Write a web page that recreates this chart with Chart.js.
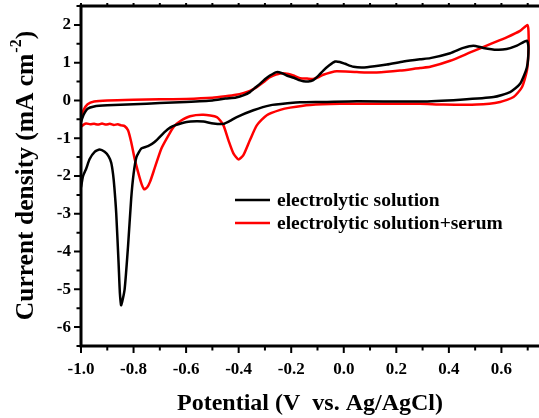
<!DOCTYPE html>
<html>
<head>
<meta charset="utf-8">
<script src="https://cdn.jsdelivr.net/npm/chart.js@4/dist/chart.umd.min.js"></script>
<style>
    html, body { margin: 0; padding: 0; background: #fff; }
    #wrap { width: 539px; height: 418px; }
</style>
</head>
<body>
<div id="wrap"><canvas id="cv"></canvas></div>
<script>
// cyclic voltammograms, potential in V vs. Ag/AgCl, current density in mA cm-2
const electrolytePotential = [
    -1.0, -0.99, -0.975, -0.95, -0.9, -0.8, -0.7, -0.6, -0.5, -0.45, -0.41, -0.38, -0.357, -0.34, -0.319,
    -0.3, -0.281, -0.255, -0.235, -0.217, -0.19, -0.166, -0.154, -0.135, -0.116, -0.097, -0.078, -0.055,
    -0.033, -0.015, 0.005, 0.037, 0.088, 0.164, 0.227, 0.29, 0.329, 0.405, 0.455, 0.493, 0.531, 0.582,
    0.62, 0.659, 0.697,
    0.703, 0.697, 0.671, 0.633, 0.57, 0.443, 0.29, 0.05, -0.078, -0.166, -0.204, -0.281, -0.344, -0.407,
    -0.435, -0.458, -0.496, -0.534, -0.56, -0.598, -0.643, -0.661, -0.681, -0.72, -0.745, -0.77, -0.789,
    -0.8, -0.809, -0.821, -0.834, -0.847, -0.852, -0.857, -0.866, -0.873, -0.878, -0.885, -0.895, -0.91,
    -0.929, -0.948, -0.967, -0.98, -0.992, -1.0
];
const electrolyteCurrent = [
    -0.57, -0.38, -0.22, -0.16, -0.13, -0.1, -0.07, -0.04, 0.0, 0.05, 0.08, 0.14, 0.22, 0.32, 0.44,
    0.56, 0.66, 0.75, 0.72, 0.66, 0.6, 0.53, 0.51, 0.5, 0.54, 0.65, 0.79, 0.93,
    1.03, 1.02, 0.97, 0.89, 0.88, 0.95, 1.03, 1.09, 1.12, 1.25, 1.39, 1.45, 1.39, 1.34,
    1.36, 1.45, 1.58,
    1.39, 0.88, 0.44, 0.22, 0.09, 0.02, -0.03, -0.02, -0.04, -0.05, -0.07, -0.13, -0.26, -0.44,
    -0.55, -0.62, -0.61, -0.56, -0.55, -0.57, -0.66, -0.72, -0.83, -1.1, -1.21, -1.27, -1.5,
    -1.95, -2.6, -3.86, -5.0, -5.42, -5.1, -4.3, -2.98, -2.3, -1.95, -1.65, -1.48, -1.36,
    -1.3, -1.36, -1.55, -1.8, -2.0, -2.3
];
const serumPotential = [
    -1.0, -0.99, -0.975, -0.95, -0.9, -0.8, -0.7, -0.6, -0.5, -0.45, -0.41, -0.38, -0.357, -0.33, -0.306,
    -0.285, -0.268, -0.236, -0.21, -0.192, -0.166, -0.14, -0.116, -0.095, -0.078, -0.05, -0.027, 0.05,
    0.125, 0.214, 0.29, 0.329, 0.405, 0.481, 0.557, 0.62, 0.671, 0.699,
    0.703, 0.703, 0.697, 0.678, 0.646, 0.595, 0.506, 0.379, 0.29, 0.1, -0.014, -0.128, -0.204, -0.242,
    -0.293, -0.331, -0.357, -0.382, -0.401, -0.42, -0.439, -0.458, -0.483, -0.534, -0.585, -0.623,
    -0.645, -0.661, -0.694, -0.72, -0.737, -0.748, -0.76, -0.77, -0.783, -0.796, -0.809, -0.821,
    -0.834, -0.847, -0.86, -0.875, -0.89, -0.905, -0.92, -0.935, -0.95, -0.965, -0.98, -0.99, -1.0
];
const serumCurrent = [
    -0.44, -0.25, -0.1, -0.03, 0.0, 0.02, 0.03, 0.04, 0.07, 0.11, 0.15, 0.2, 0.25, 0.36, 0.48,
    0.6, 0.66, 0.72, 0.7, 0.66, 0.59, 0.58, 0.57, 0.62, 0.68, 0.74, 0.77, 0.75,
    0.74, 0.79, 0.86, 0.89, 1.05, 1.27, 1.49, 1.67, 1.84, 2.0,
    1.84, 1.32, 0.79, 0.35, 0.09, -0.04, -0.11, -0.11, -0.09, -0.09, -0.09, -0.12, -0.19, -0.25,
    -0.39, -0.66, -1.05, -1.45, -1.56, -1.4, -1.05, -0.66, -0.44, -0.38, -0.42, -0.55,
    -0.68, -0.85, -1.27, -1.8, -2.15, -2.3, -2.35, -2.2, -1.89, -1.54, -1.1, -0.79,
    -0.68, -0.66, -0.63, -0.65, -0.62, -0.64, -0.61, -0.64, -0.62, -0.63, -0.61, -0.64, -0.7
];
const xTicks = [-1.0, -0.8, -0.6, -0.4, -0.2, 0.0, 0.2, 0.4, 0.6];
const yTicks = [-6, -5, -4, -3, -2, -1, 0, 1, 2];

const serif = '"Liberation Serif", "Times New Roman", serif';

function toPoints(xs, ys) {
    return xs.map((x, i) => ({ x: x, y: ys[i] }));
}

// axes frame, minor ticks, y title with superscript and legend
const framePlugin = {
    id: 'frame',
    afterDatasetsDraw(chart) {
        const ctx = chart.ctx;
        const area = chart.chartArea;
        const xs = chart.scales.x;
        const ys = chart.scales.y;
        ctx.save();
        ctx.strokeStyle = '#000';
        ctx.lineWidth = 3;
        ctx.beginPath();
        ctx.moveTo(area.left, area.top);
        ctx.lineTo(area.right + 2, area.top);
        ctx.moveTo(area.left, area.top - 1.5);
        ctx.lineTo(area.left, area.bottom + 1.5);
        ctx.moveTo(area.left - 1.5, area.bottom);
        ctx.lineTo(area.right + 2, area.bottom);
        ctx.stroke();

        ctx.lineWidth = 2;
        ctx.beginPath();
        for (let v = -1.0; v <= 0.75; v += 0.1) {
            const px = xs.getPixelForValue(v);
            const major = Math.round(v * 10) % 2 === 0;
            ctx.moveTo(px, area.bottom);
            ctx.lineTo(px, area.bottom + (major ? 7 : 4.5));
            ctx.moveTo(px, area.top);
            ctx.lineTo(px, area.top - 3);
        }
        for (let v = -6.5; v <= 2.5; v += 0.5) {
            const py = ys.getPixelForValue(v);
            const major = Number.isInteger(v);
            ctx.moveTo(area.left, py);
            ctx.lineTo(area.left - (major ? 7 : 4.5), py);
        }
        ctx.stroke();

        // y axis title
        const main = 'Current density (mA cm';
        const sup = '-2';
        const tail = ')';
        ctx.translate(26, (area.top + area.bottom) / 2);
        ctx.rotate(-Math.PI / 2);
        ctx.fillStyle = '#000';
        ctx.textBaseline = 'middle';
        ctx.textAlign = 'left';
        ctx.font = 'bold 25.5px ' + serif;
        const w1 = ctx.measureText(main).width;
        const w3 = ctx.measureText(tail).width;
        ctx.font = 'bold 16px ' + serif;
        const w2 = ctx.measureText(sup).width;
        let x0 = -(w1 + w2 + w3) / 2;
        ctx.font = 'bold 25.5px ' + serif;
        ctx.fillText(main, x0, 0);
        ctx.font = 'bold 16px ' + serif;
        ctx.fillText(sup, x0 + w1 + 1, -9);
        ctx.font = 'bold 25.5px ' + serif;
        ctx.fillText(tail, x0 + w1 + w2 + 1, 0);
        ctx.restore();

        // legend
        ctx.save();
        ctx.font = 'bold 19.5px ' + serif;
        ctx.textBaseline = 'middle';
        chart.data.datasets.forEach((ds, i) => {
            const ly = 200 + i * 23;
            ctx.strokeStyle = ds.borderColor;
            ctx.lineWidth = 2.5;
            ctx.beginPath();
            ctx.moveTo(235, ly);
            ctx.lineTo(270, ly);
            ctx.stroke();
            ctx.fillStyle = '#000';
            ctx.fillText(ds.label, 277, ly + 1);
        });
        ctx.restore();
    }
};

new Chart(document.getElementById('cv'), {
    type: 'scatter',
    data: {
        datasets: [
            {
                label: 'electrolytic solution',
                data: toPoints(electrolytePotential, electrolyteCurrent),
                borderColor: '#000000',
                borderWidth: 2.5,
                showLine: true,
                pointRadius: 0,
                tension: 0.2
            },
            {
                label: 'electrolytic solution+serum',
                data: toPoints(serumPotential, serumCurrent),
                borderColor: '#ff0000',
                borderWidth: 2.5,
                showLine: true,
                pointRadius: 0,
                tension: 0.2
            }
        ]
    },
    options: {
        responsive: true,
        maintainAspectRatio: false,
        animation: false,
        layout: { padding: { top: 6, left: 0, right: 0, bottom: 0 } },
        plugins: { legend: { display: false }, tooltip: { enabled: false } },
        scales: {
            x: {
                type: 'linear',
                min: -1.0,
                max: 0.743,
                grid: { display: false, drawTicks: false },
                border: { display: false },
                afterBuildTicks: (scale) => { scale.ticks = xTicks.map(v => ({ value: v })); },
                afterFit: (scale) => {
                    scale.height = 72;
                    scale.paddingLeft = 0;
                    scale.paddingRight = 0;
                },
                ticks: {
                    color: '#000',
                    padding: 13,
                    maxRotation: 0,
                    font: { family: serif, size: 17, weight: 'bold' },
                    callback: (v) => v.toFixed(1)
                },
                title: {
                    display: true,
                    text: 'Potential (V  vs. Ag/AgCl)',
                    color: '#000',
                    font: { family: serif, size: 24, weight: 'bold' },
                    padding: { top: 10, bottom: 0 }
                }
            },
            y: {
                type: 'linear',
                min: -6.5,
                max: 2.5,
                grid: { display: false, drawTicks: false },
                border: { display: false },
                afterBuildTicks: (scale) => { scale.ticks = yTicks.map(v => ({ value: v })); },
                afterFit: (scale) => {
                    scale.width = 81;
                    scale.paddingTop = 0;
                    scale.paddingBottom = 0;
                },
                ticks: {
                    color: '#000',
                    padding: 10,
                    font: { family: serif, size: 17, weight: 'bold' },
                    callback: (v) => String(v)
                }
            }
        }
    },
    plugins: [framePlugin]
});
</script>
</body>
</html>
